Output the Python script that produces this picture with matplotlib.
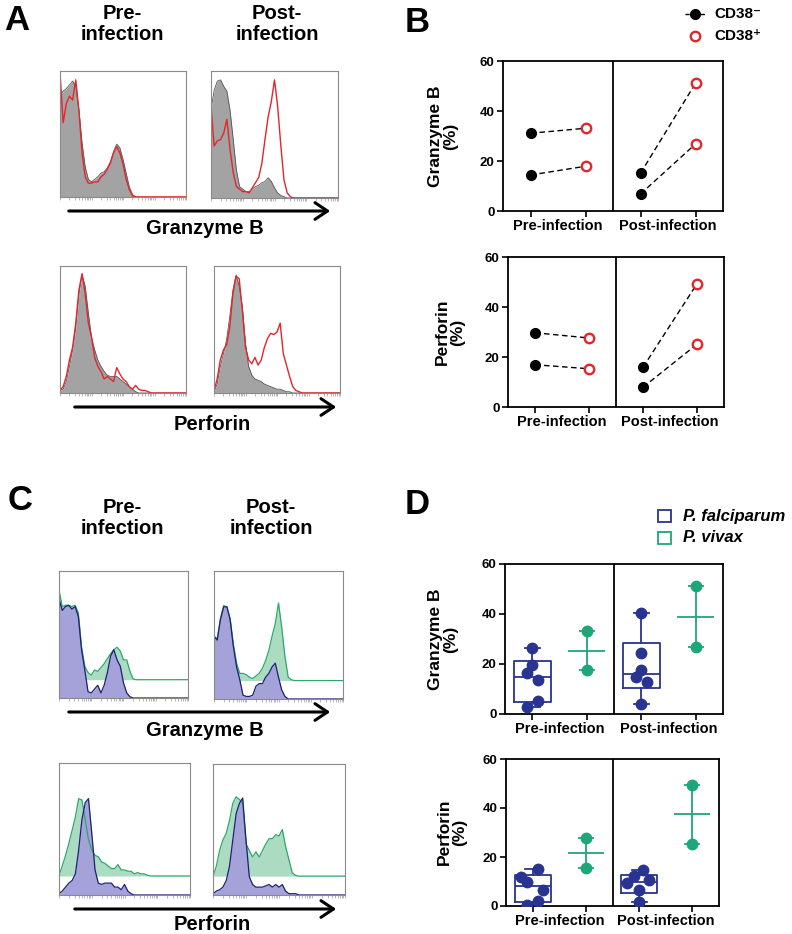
import numpy as np
import matplotlib
matplotlib.use("Agg")
import matplotlib.pyplot as plt
from matplotlib.patches import FancyArrowPatch, Rectangle
from matplotlib.lines import Line2D

plt.rcParams["font.family"] = ["Liberation Sans", "DejaVu Sans"]
plt.rcParams["font.weight"] = "bold"

# ---------------- data ----------------
# flow histograms: % of max, sampled every 2.5 units of the (log) channel axis
HIST_STEP = 2.5

# panel A: grey = CD38-, red = CD38+
a_gzb_pre_neg = [80, 84, 86, 89, 92, 88, 69, 43, 24, 14, 12, 14, 16, 19, 20, 23, 28, 36, 42, 39, 30, 19, 8, 2, 0]
a_gzb_pre_pos = [99, 59, 74, 80, 77, 93, 69, 35, 16, 11, 11, 12, 12, 16, 18, 22, 27, 35, 40, 35, 26, 14, 6, 1, 0]
a_gzb_post_neg = [70, 85, 92, 93, 88, 84, 69, 46, 22, 9, 7, 5, 5, 7, 9, 10, 12, 13, 16, 13, 8, 4, 2, 1, 0]
a_gzb_post_pos = [72, 41, 45, 46, 51, 62, 38, 20, 9, 7, 5, 5, 4, 8, 12, 16, 27, 46, 64, 76, 93, 72, 41, 14, 4, 1, 0]
a_prf_pre_neg = [2, 3, 9, 21, 34, 52, 78, 93, 84, 63, 44, 34, 26, 21, 17, 14, 13, 13, 13, 11, 9, 7, 5, 3, 1, 0]
a_prf_pre_pos = [2, 5, 13, 26, 36, 55, 81, 94, 78, 55, 44, 28, 21, 17, 11, 13, 11, 9, 20, 15, 11, 9, 5, 3, 6, 3, 2, 2, 1, 0]
a_prf_post_neg = [1, 7, 21, 31, 42, 60, 81, 93, 84, 68, 39, 21, 14, 11, 10, 9, 7, 6, 5, 4, 3, 3, 2, 1, 1, 0]
a_prf_post_pos = [2, 11, 26, 34, 38, 52, 78, 92, 90, 65, 36, 26, 23, 28, 22, 26, 36, 43, 47, 46, 48, 55, 31, 22, 13, 5, 2, 1, 0]

# panel C: blue = P. falciparum, green = P. vivax (green drawn with an offset baseline)
c_green_base = 14.4
c_gzb_pre_pf = [78, 69, 72, 73, 70, 72, 64, 38, 22, 5, 4, 7, 10, 4, 10, 20, 33, 38, 30, 25, 12, 4, 1, 0]
c_gzb_pre_pv = [85, 72, 73, 73, 72, 73, 67, 40, 25, 20, 18, 22, 21, 24, 27, 31, 35, 38, 40, 37, 30, 30, 21, 15, 14.4]
c_gzb_post_pf = [49, 46, 62, 72, 72, 62, 41, 25, 15, 3, 2, 2, 3, 10, 12, 12, 17, 20, 25, 28, 17, 7, 2, 0]
c_gzb_post_pv = [49, 47, 63, 73, 72, 63, 43, 28, 20, 20, 19, 17, 16, 18, 20, 24, 30, 38, 49, 59, 75, 56, 33, 17, 15, 14.4]
c_prf_pre_pf = [1, 3, 6, 9, 11, 16, 34, 57, 70, 73, 47, 19, 9, 8, 9, 9, 9, 6, 6, 4, 8, 3, 1, 0]
c_prf_pre_pv = [15, 22, 30, 39, 49, 59, 73, 72, 57, 42, 34, 30, 29, 25, 24, 22, 20, 20, 23, 19, 19, 18, 18, 16, 17, 16, 16, 15, 14.4]
c_prf_post_pf = [1, 3, 4, 6, 11, 22, 42, 62, 70, 74, 42, 14, 8, 6, 6, 6, 7, 8, 6, 8, 6, 8, 3, 1, 1, 1, 0]
c_prf_post_pv = [14.4, 22, 34, 42, 47, 57, 70, 75, 73, 70, 39, 34, 29, 33, 29, 34, 39, 43, 43, 46, 45, 50, 37, 27, 17, 15, 14.4]

# panel B: % positive, paired CD38- / CD38+ per volunteer
groups = ["Pre-infection", "Post-infection"]
b_gzb_neg_pre = [31.1, 14.4]
b_gzb_pos_pre = [33.1, 17.9]
b_gzb_neg_post = [15.1, 6.8]
b_gzb_pos_post = [51.1, 26.8]
b_prf_neg_pre = [29.7, 16.9]
b_prf_pos_pre = [27.6, 15.3]
b_prf_neg_post = [15.9, 7.9]
b_prf_pos_post = [49.3, 25.1]

# panel D: % positive per volunteer
d_gzb_pf_pre = [26.4, 19.7, 16.4, 13.5, 5.3, 2.8]
d_gzb_pf_post = [40.4, 24.4, 17.7, 14.7, 12.7, 4.0]
d_gzb_pv_pre = [33.1, 17.7]
d_gzb_pv_post = [51.2, 26.8]
d_prf_pf_pre = [15.1, 12.0, 10.0, 6.5, 2.0, 0.4]
d_prf_pf_post = [14.5, 12.3, 9.3, 10.6, 6.5, 1.8]
d_prf_pv_pre = [27.7, 15.4]
d_prf_pv_post = [49.5, 25.2]

# horizontal scatter of the P. falciparum dots
d_gzb_jit_pre = [0, 0, -0.1, 0.11, 0.11, -0.1]
d_gzb_jit_post = [0, 0, 0, -0.1, 0.1, 0]
d_prf_jit_pre = [0.1, -0.21, -0.11, 0.2, 0.1, -0.11]
d_prf_jit_post = [0.08, -0.1, -0.23, 0.18, 0, 0]

RED = "#e3262b"
NAVY = "#28348f"
GREEN = "#1ea679"
GREY_FILL = "#a3a3a3"
PF_FILL = "#a4a2d8"
PV_FILL = "#abdcc1"
PV_LINE = "#2ba96b"
PF_LINE = "#1d1f78"

W, H = 792, 934
fig = plt.figure(figsize=(W / 100, H / 100), dpi=100)

# log-style channel ticks under the flow histograms (4 decades)
log_ticks = np.concatenate([d * 25 + 25 * np.log10(np.arange(1, 10)) for d in range(4)] + [[100]])


def px_axes(l, t, r, b):
    return fig.add_axes([l / W, 1 - b / H, (r - l) / W, (b - t) / H])


def fig_text(x, y, s, **kw):
    fig.text(x / W, 1 - y / H, s, **kw)


def arrow(x0, x1, y):
    fig.add_artist(FancyArrowPatch((x0 / W, 1 - y / H), (x1 / W, 1 - y / H),
                                   transform=fig.transFigure,
                                   arrowstyle="->,head_length=0.45,head_width=0.3",
                                   mutation_scale=20, lw=2.2, color="black"))


def hist_xy(vals, base=0.0):
    vals = np.asarray(vals, dtype=float)
    x = np.arange(len(vals)) * HIST_STEP
    x = np.concatenate([[0], x, [100]])
    y = np.concatenate([[base], vals, [vals[-1]]])
    return x, y


def hist_box(ax):
    ax.set_xlim(0, 100)
    ax.set_ylim(0, 100)
    ax.set_xticks(log_ticks)
    ax.set_xticklabels([])
    ax.tick_params(axis="x", length=2, width=0.5, color="#9a9a9a", direction="out")
    ax.set_yticks([])
    for s in ax.spines.values():
        s.set_color("#8a8a8a")
        s.set_linewidth(0.8)


def hist_a(ax, neg, pos):
    x, y = hist_xy(neg)
    ax.fill_between(x, 0, y, color=GREY_FILL, lw=0)
    ax.plot(x, y, color="#555555", lw=0.6)
    x, y = hist_xy(pos)
    ax.plot(x, y, color=RED, lw=1.0)
    hist_box(ax)


def hist_c(ax, pf, pv):
    x, y = hist_xy(pv, c_green_base)
    ax.fill_between(x, c_green_base, y, color=PV_FILL, lw=0)
    ax.plot(x, y, color=PV_LINE, lw=0.9)
    x, y = hist_xy(pf)
    ax.fill_between(x, 0, y, color=PF_FILL, lw=0)
    ax.plot(x, y, color=PF_LINE, lw=0.9)
    hist_box(ax)


def style_dot_axes(ax):
    ax.set_xlim(-0.5, 3.5)
    ax.set_ylim(0, 60)
    ax.axvline(1.5, color="black", lw=1.3, zorder=1)
    ax.set_yticks([0, 20, 40, 60])
    ax.set_xticks([0, 1, 2, 3])
    ax.set_xticklabels([])
    ax.set_xticks([0.5, 2.5], minor=True)
    ax.set_xticklabels(groups, minor=True)
    ax.tick_params(axis="x", which="minor", length=0, pad=6, labelsize=10.5)
    ax.tick_params(axis="both", which="major", length=4, width=1.2, labelsize=9.5, pad=2)
    for s in ax.spines.values():
        s.set_linewidth(1.3)


def pair_panel(ax, neg_pre, pos_pre, neg_post, pos_post):
    for x0, neg, pos in [(0, neg_pre, pos_pre), (2, neg_post, pos_post)]:
        for a, b in zip(neg, pos):
            ax.plot([x0, x0 + 1], [a, b], color="black", ls=(0, (4, 2.5)), lw=1.0, zorder=2)
        ax.plot([x0] * len(neg), neg, "o", color="black", ms=7, zorder=3)
        ax.plot([x0 + 1] * len(pos), pos, "o", mfc="white", mec=RED, mew=1.7, ms=6.8, zorder=3)
    style_dot_axes(ax)


def box_panel(ax, pf_pre, pf_post, pv_pre, pv_post, jit_pre, jit_post):
    for x0, pf, jit in [(0, pf_pre, jit_pre), (2, pf_post, jit_post)]:
        q1, med, q3 = np.percentile(pf, [25, 50, 75], method="weibull")
        stats = [dict(med=med, q1=q1, q3=q3, whislo=min(pf), whishi=max(pf), fliers=[])]
        lp = dict(color=NAVY, lw=1.3)
        ax.bxp(stats, positions=[x0], widths=0.68, capwidths=0.28, showfliers=False,
               boxprops=lp, whiskerprops=lp, capprops=lp, medianprops=lp)
        ax.plot(x0 + np.array(jit), pf, "o", color=NAVY, ms=7.5, zorder=3)
    for x0, pv in [(1, pv_pre), (3, pv_post)]:
        ax.hlines(np.mean(pv), x0 - 0.34, x0 + 0.34, color=GREEN, lw=1.3)
        ax.vlines(x0, min(pv), max(pv), color=GREEN, lw=1.3)
        ax.hlines([min(pv), max(pv)], x0 - 0.15, x0 + 0.15, color=GREEN, lw=1.3)
        ax.plot([x0] * len(pv), pv, "o", color=GREEN, ms=7.5, zorder=3)
    style_dot_axes(ax)


# ---------------- panel A ----------------
fig_text(17, 20, "A", fontsize=25, ha="center", va="center")
fig_text(122, 24, "Pre-\ninfection", fontsize=14.5, ha="center", va="center", linespacing=1.1)
fig_text(277, 24, "Post-\ninfection", fontsize=14.5, ha="center", va="center", linespacing=1.1)
hist_a(px_axes(60, 71, 186, 197), a_gzb_pre_neg, a_gzb_pre_pos)
hist_a(px_axes(211, 71, 338, 198), a_gzb_post_neg, a_gzb_post_pos)
arrow(66, 333, 211)
fig_text(205, 229, "Granzyme B", fontsize=14.5, ha="center", va="center")
hist_a(px_axes(60, 266, 186, 393), a_prf_pre_neg, a_prf_pre_pos)
hist_a(px_axes(214, 266, 340, 393), a_prf_post_neg, a_prf_post_pos)
arrow(72, 339, 407)
fig_text(212, 425, "Perforin", fontsize=14.5, ha="center", va="center")

# ---------------- panel C ----------------
fig_text(20, 500, "C", fontsize=25, ha="center", va="center")
fig_text(122, 518, "Pre-\ninfection", fontsize=14.5, ha="center", va="center", linespacing=1.1)
fig_text(271, 518, "Post-\ninfection", fontsize=14.5, ha="center", va="center", linespacing=1.1)
hist_c(px_axes(59, 571, 188, 698), c_gzb_pre_pf, c_gzb_pre_pv)
hist_c(px_axes(214, 571, 343, 699), c_gzb_post_pf, c_gzb_post_pv)
arrow(66, 333, 712)
fig_text(205, 730, "Granzyme B", fontsize=14.5, ha="center", va="center")
hist_c(px_axes(59, 763, 190, 895), c_prf_pre_pf, c_prf_pre_pv)
hist_c(px_axes(213, 764, 345, 895), c_prf_post_pf, c_prf_post_pv)
arrow(72, 339, 909)
fig_text(212, 925, "Perforin", fontsize=14.5, ha="center", va="center")

# ---------------- panel B ----------------
fig_text(417, 23, "B", fontsize=25, ha="center", va="center")
ax = px_axes(503, 61, 723, 211)
pair_panel(ax, b_gzb_neg_pre, b_gzb_pos_pre, b_gzb_neg_post, b_gzb_pos_post)
fig_text(443, 136, "Granzyme B\n(%)", fontsize=12.5, rotation=90, ha="center", va="center", linespacing=1.0)
ax = px_axes(508, 257, 724, 407)
pair_panel(ax, b_prf_neg_pre, b_prf_pos_pre, b_prf_neg_post, b_prf_pos_post)
fig_text(450, 332, "Perforin\n(%)", fontsize=12.5, rotation=90, ha="center", va="center", linespacing=1.0)

# legend B
for yy, lab in [(14, "CD38\u207b"), (36, "CD38\u207a")]:
    fig_text(714, yy, lab, fontsize=11, ha="left", va="center")
fig.add_artist(Line2D([685 / W, 706 / W], [1 - 14 / H] * 2, transform=fig.transFigure,
                      color="black", ls=(0, (3, 2.5)), lw=1.0))
fig.add_artist(Line2D([695 / W], [1 - 14 / H], transform=fig.transFigure,
                      marker="o", color="black", ms=7))
fig.add_artist(Line2D([695 / W], [1 - 36 / H], transform=fig.transFigure,
                      marker="o", mfc="white", mec=RED, mew=1.7, ms=6.8))

# ---------------- panel D ----------------
fig_text(417, 505, "D", fontsize=25, ha="center", va="center")
ax = px_axes(505, 564, 723, 714)
box_panel(ax, d_gzb_pf_pre, d_gzb_pf_post, d_gzb_pv_pre, d_gzb_pv_post, d_gzb_jit_pre, d_gzb_jit_post)
fig_text(443, 639, "Granzyme B\n(%)", fontsize=12.5, rotation=90, ha="center", va="center", linespacing=1.0)
ax = px_axes(506, 759, 719, 906)
box_panel(ax, d_prf_pf_pre, d_prf_pf_post, d_prf_pv_pre, d_prf_pv_post, d_prf_jit_pre, d_prf_jit_post)
fig_text(452, 832, "Perforin\n(%)", fontsize=12.5, rotation=90, ha="center", va="center", linespacing=1.0)

# legend D
for yy, col, lab in [(516, NAVY, "P. falciparum"), (538, GREEN, "P. vivax")]:
    fig.add_artist(Rectangle((658 / W, 1 - (yy + 6) / H), 13 / W, 12 / H, transform=fig.transFigure,
                             facecolor="white", edgecolor=col, lw=1.3))
    fig_text(683, yy, lab, fontsize=12, style="italic", ha="left", va="center")

fig.savefig("out.png", dpi=100)
